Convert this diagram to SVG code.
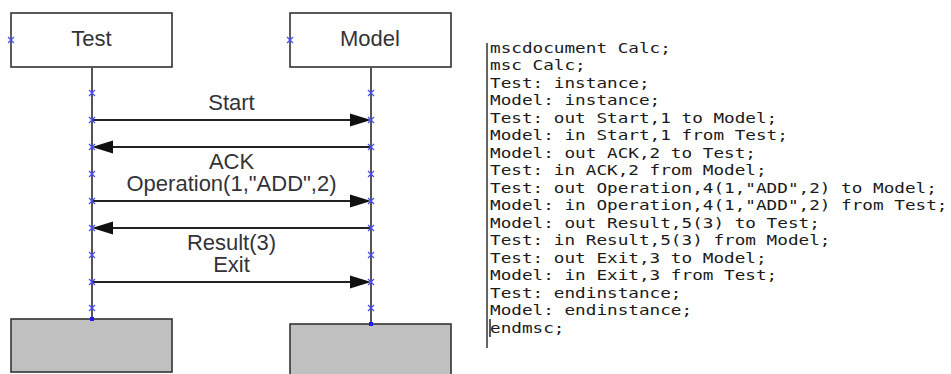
<svg xmlns="http://www.w3.org/2000/svg" width="951" height="374" viewBox="0 0 951 374">
<style>
.box{fill:#ffffff;stroke:#333333;stroke-width:1.6}
.endbox{fill:#c0c0c0;stroke:#333333;stroke-width:1.6}
.life{stroke:#555555;stroke-width:2;fill:none}
.msg{stroke:#222222;stroke-width:2.2;fill:none}
.head{fill:#111111}
.mark{stroke:#4a4aff;stroke-width:1.2;fill:none}
.endpt{fill:#1a1aff}
.lbl{font-family:"Liberation Sans",Arial,sans-serif;font-size:22px;fill:#333338;text-anchor:middle}
.code{font-family:"DejaVu Sans Mono","Liberation Mono",monospace;font-size:14.5px;fill:#1a1a1a}
</style>
<defs>
<path id="x" class="mark" d="M-3,-3 L3,3 M-3,3 L3,-3"/>
</defs>

<g id="node-test">
<rect class="box" x="11" y="13" width="161" height="54"/>
<text class="lbl" x="91.5" y="46">Test</text>
<line class="life" x1="92" y1="67" x2="92" y2="319"/>
<rect class="endbox" x="11" y="319" width="161" height="53"/>
</g>

<g id="node-model">
<rect class="box" x="290" y="13" width="161" height="54"/>
<text class="lbl" x="370" y="46">Model</text>
<line class="life" x1="371" y1="67" x2="371" y2="324"/>
<rect class="endbox" x="290" y="324" width="161" height="56"/>
</g>

<g id="connectors">
<line class="msg" x1="92" y1="120" x2="352" y2="120"/>
<path class="head" d="M350,113.5 L371,120 L350,126.5 Z"/>
<line class="msg" x1="371" y1="147" x2="111" y2="147"/>
<path class="head" d="M113,140.5 L92,147 L113,153.5 Z"/>
<line class="msg" x1="92" y1="201" x2="352" y2="201"/>
<path class="head" d="M350,194.5 L371,201 L350,207.5 Z"/>
<line class="msg" x1="371" y1="228" x2="111" y2="228"/>
<path class="head" d="M113,221.5 L92,228 L113,234.5 Z"/>
<line class="msg" x1="92" y1="282" x2="352" y2="282"/>
<path class="head" d="M350,275.5 L371,282 L350,288.5 Z"/>
<text class="lbl" x="231.5" y="110">Start</text>
<text class="lbl" x="231.5" y="169">ACK</text>
<text class="lbl" x="231.5" y="191">Operation(1,"ADD",2)</text>
<text class="lbl" x="231.5" y="250">Result(3)</text>
<text class="lbl" x="231.5" y="272">Exit</text>
</g>

<g id="marks">
<use href="#x" x="11" y="40"/>
<use href="#x" x="290" y="40"/>
<use href="#x" x="92" y="93"/><use href="#x" x="92" y="120"/><use href="#x" x="92" y="147"/>
<use href="#x" x="92" y="174"/><use href="#x" x="92" y="201"/><use href="#x" x="92" y="228"/>
<use href="#x" x="92" y="255"/><use href="#x" x="92" y="282"/><use href="#x" x="92" y="308"/>
<use href="#x" x="371" y="93"/><use href="#x" x="371" y="120"/><use href="#x" x="371" y="147"/>
<use href="#x" x="371" y="174"/><use href="#x" x="371" y="201"/><use href="#x" x="371" y="228"/>
<use href="#x" x="371" y="255"/><use href="#x" x="371" y="282"/><use href="#x" x="371" y="308"/>
<rect class="endpt" x="90" y="317" width="4" height="4"/>
<rect class="endpt" x="369" y="322" width="4" height="4"/>
</g>

<g id="code">
<line x1="487" y1="43" x2="487" y2="348" stroke="#333333" stroke-width="1.5"/>
<line x1="490" y1="319" x2="490" y2="337" stroke="#222222" stroke-width="1.5"/>
<g transform="translate(490,0) scale(1.22,1)">
<text class="code" x="0" y="53">mscdocument Calc;</text>
<text class="code" x="0" y="70.5">msc Calc;</text>
<text class="code" x="0" y="88">Test: instance;</text>
<text class="code" x="0" y="105.5">Model: instance;</text>
<text class="code" x="0" y="123">Test: out Start,1 to Model;</text>
<text class="code" x="0" y="140.5">Model: in Start,1 from Test;</text>
<text class="code" x="0" y="158">Model: out ACK,2 to Test;</text>
<text class="code" x="0" y="175.5">Test: in ACK,2 from Model;</text>
<text class="code" x="0" y="193">Test: out Operation,4(1,"ADD",2) to Model;</text>
<text class="code" x="0" y="210.5">Model: in Operation,4(1,"ADD",2) from Test;</text>
<text class="code" x="0" y="228">Model: out Result,5(3) to Test;</text>
<text class="code" x="0" y="245.5">Test: in Result,5(3) from Model;</text>
<text class="code" x="0" y="263">Test: out Exit,3 to Model;</text>
<text class="code" x="0" y="280.5">Model: in Exit,3 from Test;</text>
<text class="code" x="0" y="298">Test: endinstance;</text>
<text class="code" x="0" y="315.5">Model: endinstance;</text>
<text class="code" x="0" y="333">endmsc;</text>
</g>
</g>
</svg>
